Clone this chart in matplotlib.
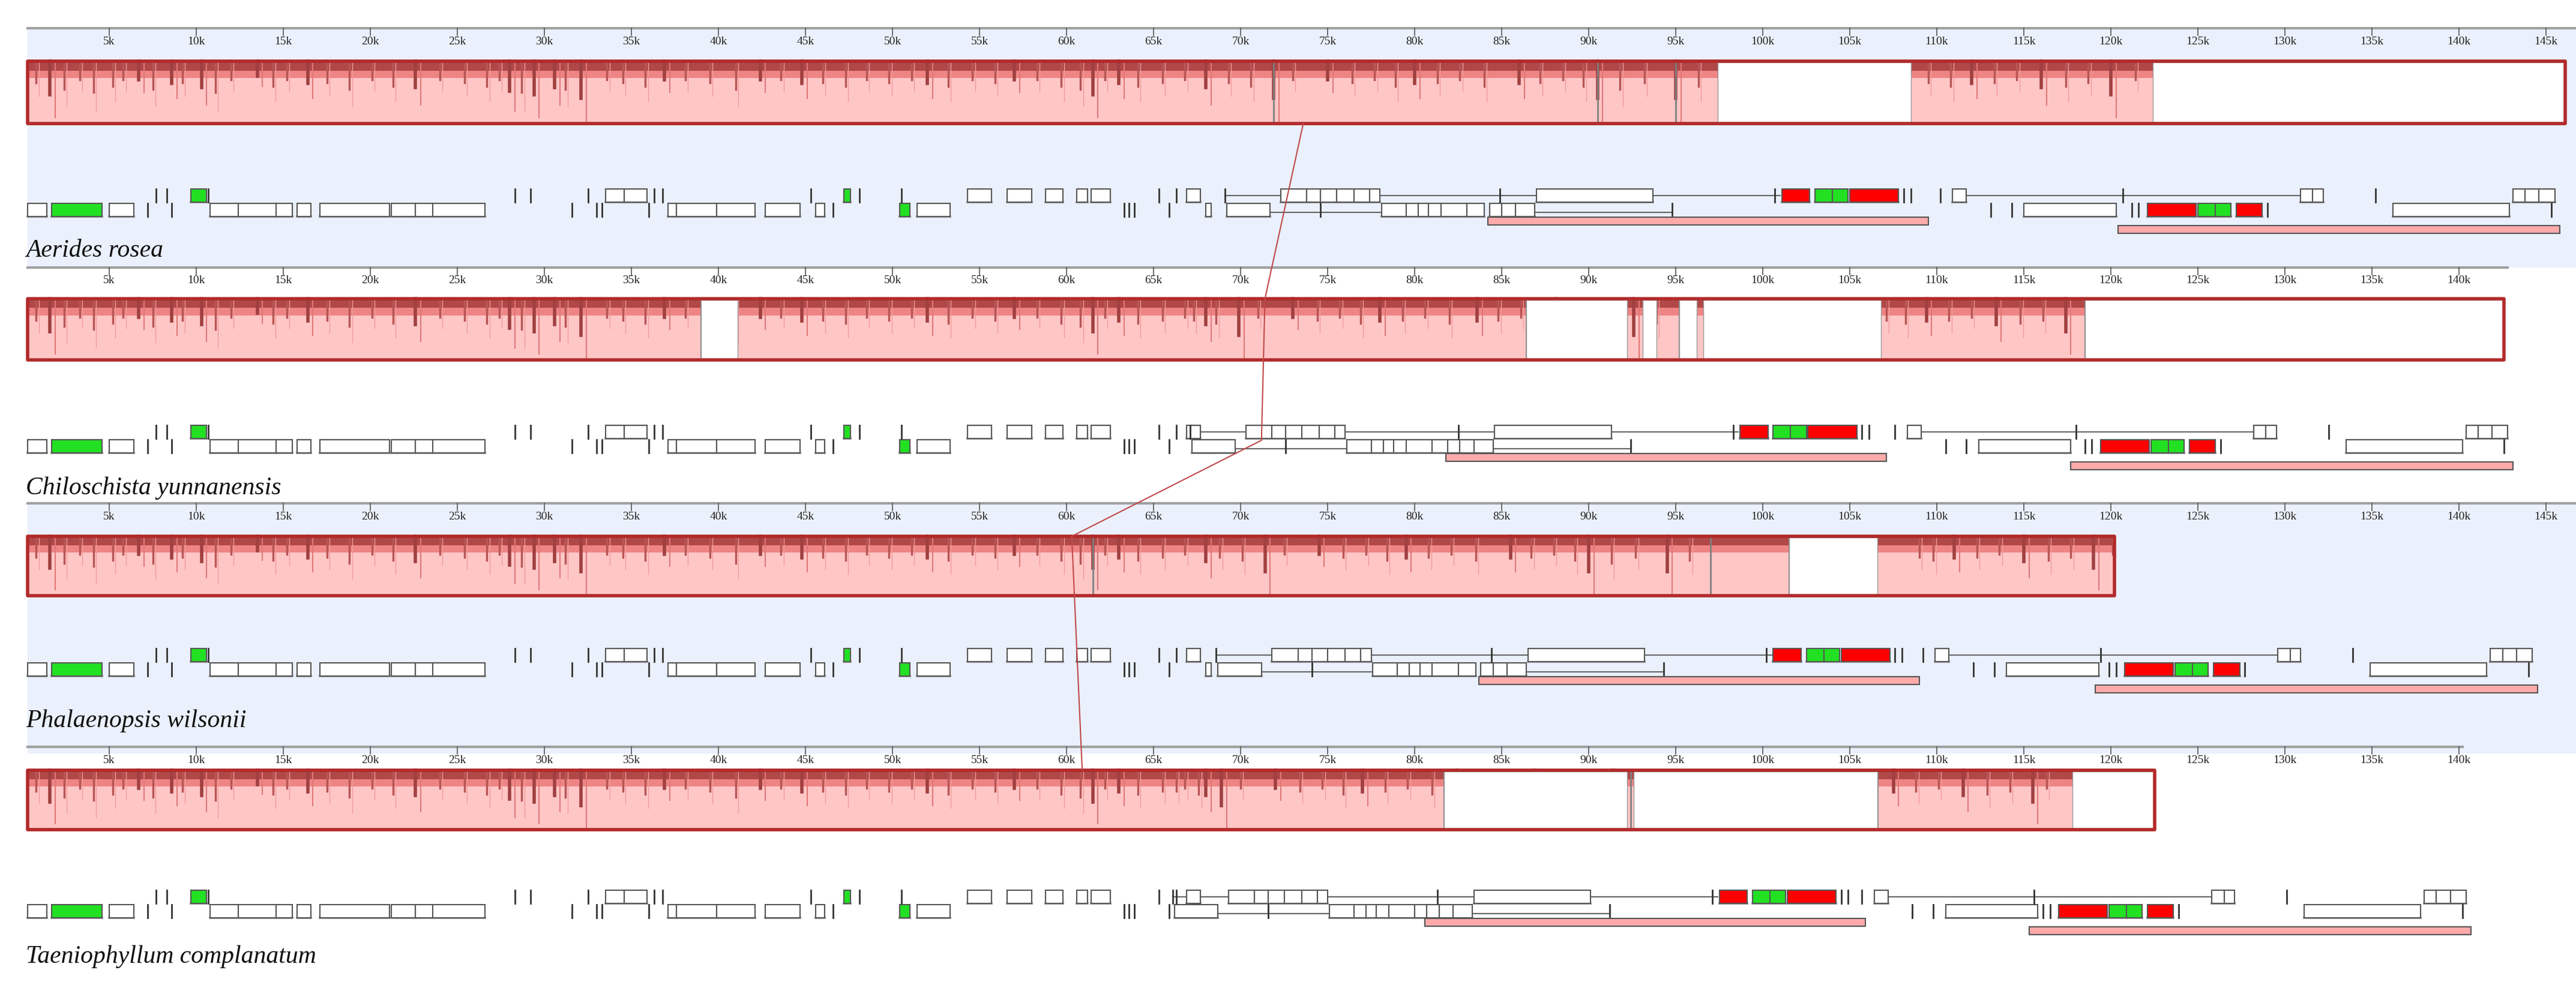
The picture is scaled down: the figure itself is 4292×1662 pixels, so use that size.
import matplotlib.pyplot as plt
from matplotlib.patches import Rectangle

# ---- data (kb, coordinates of Aerides rosea; other genomes shifted per region) ----
names = ["Aerides rosea", "Chiloschista yunnanensis", "Phalaenopsis wilsonii", "Taeniophyllum complanatum"]
genome_len = [148.0, 142.8, 148.0, 140.2]
block_end = [146.1, 142.6, 120.2, 122.5]
gaps = [
    [(97.4, 108.5), (122.4, 146.1)],
    [(39.0, 41.1), (86.4, 92.2), (93.1, 93.9), (95.2, 96.2), (96.6, 106.8), (118.5, 142.6)],
    [(101.5, 106.6)],
    [(81.7, 92.2), (92.6, 106.6), (117.8, 122.5)],
]
dips = [1.6, 6.7, 8.6, 10.3, 13.5, 16.4, 22.6, 28.0, 29.4, 30.6, 32.1, 36.9, 42.4, 44.8,
        52.0, 57.0, 61.5, 63.0, 68.0, 71.9, 75.0, 80.0, 86.0, 90.5, 95.0, 112.0, 116.0, 120.0]
dip_depth = [0.9, 0.5, 0.6, 0.7, 0.4, 0.6, 0.7, 0.8, 0.9, 0.7, 1.0, 0.5, 0.5, 0.6,
             0.6, 0.5, 0.9, 0.6, 0.7, 1.0, 0.5, 0.6, 0.6, 1.0, 1.0, 0.6, 0.7, 0.9]
minor_dips = [0.8, 2.4, 3.3, 4.1, 5.2, 5.8, 7.5, 9.2, 11.1, 12.0, 14.4, 15.2, 17.5, 18.8, 20.1, 21.3,
              24.0, 25.4, 26.7, 27.4, 28.7, 31.2, 33.6, 34.5, 35.8, 38.1, 39.5, 41.0, 43.6, 46.0,
              47.3, 48.5, 49.8, 51.1, 53.2, 54.6, 55.9, 58.3, 59.7, 60.8, 62.2, 64.1, 65.5, 66.8,
              69.3, 70.6, 73.0, 76.4, 77.7, 78.9, 81.3, 82.6, 84.0, 87.2, 88.5, 89.7, 91.8, 93.2,
              96.3, 109.5, 110.8, 113.3, 114.6, 117.4, 118.7, 121.4]
minor_depth = [0.35, 0.45, 0.3, 0.5, 0.4, 0.3, 0.45, 0.35, 0.5, 0.3, 0.4, 0.3, 0.35, 0.45, 0.3, 0.4,
               0.3, 0.35, 0.4, 0.3, 0.5, 0.45, 0.3, 0.35, 0.4, 0.3, 0.35, 0.45, 0.3, 0.35,
               0.4, 0.3, 0.35, 0.3, 0.4, 0.3, 0.35, 0.3, 0.4, 0.45, 0.3, 0.4, 0.35, 0.3,
               0.35, 0.4, 0.3, 0.35, 0.3, 0.4, 0.35, 0.3, 0.4, 0.35, 0.3, 0.4, 0.45, 0.35,
               0.4, 0.35, 0.4, 0.35, 0.3, 0.4, 0.35, 0.3]
deep_lines = [[71.9, 90.5, 95.0, 126.7], [39.0, 86.4, 95.2, 118.5], [61.5, 97.0, 101.5], [81.7, 92.4, 106.6]]

# segment boundaries (kb) and per-genome shifts
seg_bounds = [69.0, 84.2, 110.0, 120.4]
seg_shift = [
    [0, 0, 0, 0, 0],
    [0, -2.0, -2.4, -2.6, -2.7],
    [0, -0.5, -0.5, -1.0, -1.3],
    [0, -3.0, -3.6, -4.5, -5.1],
]

# genes: (start, end, kind) kind g=box, G=green, R=red, b=bar
genes_lower = [
    (0.3, 1.4, "g"), (1.7, 4.6, "G"), (5.0, 6.4, "g"), (7.2, 7.2, "b"), (8.6, 8.6, "b"),
    (10.8, 12.4, "g"), (12.4, 14.6, "g"), (14.6, 15.5, "g"), (15.8, 16.6, "g"), (17.1, 21.1, "g"),
    (21.2, 22.6, "g"), (22.6, 23.6, "g"), (23.6, 26.6, "g"), (31.6, 31.6, "b"), (33.0, 33.0, "b"),
    (33.3, 33.3, "b"), (36.0, 36.0, "b"), (37.1, 37.6, "g"), (37.6, 39.9, "g"), (39.9, 42.1, "g"),
    (42.7, 44.7, "g"), (45.6, 46.1, "g"), (46.6, 46.6, "b"), (50.4, 51.0, "G"), (51.4, 53.3, "g"),
    (63.3, 63.3, "b"), (63.6, 63.6, "b"), (63.9, 63.9, "b"), (65.9, 65.9, "b"), (68.0, 68.3, "g"),
    (69.2, 71.7, "g"), (74.6, 74.6, "b"), (78.1, 79.5, "g"), (79.5, 80.2, "g"), (80.2, 80.8, "g"),
    (80.8, 81.5, "g"), (81.5, 83.0, "g"), (83.0, 84.0, "g"), (84.3, 85.0, "g"), (85.0, 85.8, "g"),
    (85.8, 86.9, "g"), (94.8, 94.8, "b"), (113.1, 113.1, "b"), (114.3, 114.3, "b"), (115.0, 120.3, "g"),
    (121.2, 121.2, "b"), (121.6, 121.6, "b"), (122.1, 124.9, "R"), (125.0, 126.0, "G"), (126.0, 126.9, "G"),
    (127.2, 128.7, "R"), (129.0, 129.0, "b"), (136.2, 142.9, "g"), (145.3, 145.3, "b"),
]
genes_upper = [
    (7.7, 7.7, "b"), (8.3, 8.3, "b"), (9.7, 10.6, "G"), (10.7, 10.7, "b"), (28.3, 28.3, "b"),
    (29.2, 29.2, "b"), (32.5, 32.5, "b"), (33.5, 34.6, "g"), (34.6, 35.9, "g"), (36.3, 36.3, "b"),
    (36.8, 36.8, "b"), (45.3, 45.3, "b"), (47.2, 47.6, "G"), (48.1, 48.1, "b"), (50.5, 50.5, "b"),
    (54.3, 55.7, "g"), (56.6, 58.0, "g"), (58.8, 59.8, "g"), (60.6, 61.2, "g"), (61.4, 62.5, "g"),
    (65.3, 65.3, "b"), (66.3, 66.3, "b"), (66.9, 67.7, "g"), (69.1, 69.1, "b"), (72.3, 73.8, "g"),
    (73.8, 74.6, "g"), (74.6, 75.5, "g"), (75.5, 76.5, "g"), (76.5, 77.4, "g"), (77.4, 78.0, "g"),
    (84.9, 84.9, "b"), (87.0, 93.7, "g"), (100.7, 100.7, "b"), (101.1, 102.7, "R"), (103.0, 104.0, "G"),
    (104.0, 104.9, "G"), (105.0, 107.8, "R"), (108.1, 108.1, "b"), (108.5, 108.5, "b"), (110.2, 110.2, "b"),
    (110.9, 111.7, "g"), (120.7, 120.7, "b"), (130.9, 131.6, "g"), (131.6, 132.2, "g"), (135.2, 135.2, "b"),
    (143.1, 143.8, "g"), (143.8, 144.6, "g"), (144.6, 145.5, "g"),
]
links_upper = [(69.1, 72.3), (78.0, 87.0), (93.7, 101.0), (111.7, 130.9)]
links_lower = [(71.7, 78.1), (86.9, 94.8)]
ir_bars = [(84.2, 109.5, 1), (120.4, 145.8, 2)]

# connector line between aligned positions (kb per genome)
link_kb = [73.6, 71.4, 60.3, 60.9]

# ---- layout (pixel rows) ----
ruler_y = [47, 446, 839, 1245]
block_y = [(102, 206), (498, 600), (894, 993), (1284, 1383)]
gene_y = [350, 744, 1116, 1519]
name_y = [418, 814, 1202, 1595]
blue_bg = [True, False, True, False]

X0, S = 37.0, 29.0
W, H = 4292, 1662
fig = plt.figure(figsize=(W / 100, H / 100), dpi=100)
ax = fig.add_axes([0, 0, 1, 1])
ax.set_xlim(-X0 / S, (W - X0) / S)
ax.set_ylim(H, 0)
ax.axis("off")


def shift(p, x):
    for i, b in enumerate(seg_bounds):
        if x < b:
            return x + seg_shift[p][i]
    return x + seg_shift[p][-1]


bg_ends = [445, 839, 1255, 1662]
for p in range(4):
    if blue_bg[p]:
        ax.add_patch(Rectangle((0.3, ruler_y[p]), 160, bg_ends[p] - ruler_y[p], color="#eaf0fc", zorder=0))
    # ruler
    ry = ruler_y[p]
    ax.plot([0.3, genome_len[p]], [ry, ry], color="#a0a0a0", lw=3, zorder=2)
    k = 5
    while k < genome_len[p]:
        ax.plot([k, k], [ry, ry + 12], color="#555555", lw=1.2, zorder=2)
        ax.text(k, ry + 22, f"{k}k", ha="center", va="center", fontsize=14,
                family="Liberation Serif", color="#222222")
        k += 5
    # LCB block
    t, b = block_y[p]
    h = b - t
    ax.add_patch(Rectangle((0.3, t), block_end[p] - 0.3, h, facecolor="#ffc6c6", edgecolor="none", zorder=3))
    ax.add_patch(Rectangle((0.3, t), block_end[p] - 0.3, h * 0.15, facecolor="#b04848", edgecolor="none", zorder=4))
    ax.add_patch(Rectangle((0.3, t + h * 0.15), block_end[p] - 0.3, h * 0.12, facecolor="#ee8484", edgecolor="none", zorder=4))
    for d, dd in zip(minor_dips, minor_depth):
        x = shift(p, d)
        if x < block_end[p]:
            ax.plot([x, x], [t, t + h * dd], color="#b85555", lw=2.5, zorder=5)
            ax.plot([x + 0.15, x + 0.15], [t, t + h * min(dd * 1.6, 0.95)], color="#f29a9a", lw=1, zorder=5)
    for d, dd in zip(dips, dip_depth):
        x = shift(p, d)
        if x < block_end[p]:
            ax.plot([x, x], [t, t + h * dd * 0.6], color="#a04040", lw=4, zorder=5)
            ax.plot([x + 0.3, x + 0.3], [t, t + h * dd], color="#e07878", lw=1.5, zorder=5)
    for x in deep_lines[p]:
        ax.plot([x, x], [t, b], color="#808080", lw=2, zorder=6)
    for g0, g1 in gaps[p]:
        ax.add_patch(Rectangle((g0, t + 2), g1 - g0, h - 4, facecolor="white", edgecolor="#999999", lw=1, zorder=7))
    ax.add_patch(Rectangle((0.3, t), block_end[p] - 0.3, h, facecolor="none", edgecolor="#b22a2a", lw=4, zorder=8,
                           joinstyle="round"))
    # genes
    gy = gene_y[p]
    for rows, yc in ((genes_lower, gy), (genes_upper, gy - 24)):
        for s0, s1, kind in rows:
            a, c = shift(p, s0), shift(p, s1)
            if kind == "b":
                ax.plot([a, a], [yc - 11, yc + 11], color="#333333", lw=2, zorder=10)
                continue
            fc = {"g": "white", "G": "#22e022", "R": "#ff0000"}[kind]
            ax.add_patch(Rectangle((a, yc - 11), c - a, 22, facecolor=fc, edgecolor="#555555", lw=1.5, zorder=10))
            ax.plot([a, c], [yc + 11, yc + 11], color="#aaaaaa", lw=3, zorder=9)
    for (l0, l1), yc in [(q, gy - 24) for q in links_upper] + [(q, gy + 4) for q in links_lower]:
        ax.plot([shift(p, l0), shift(p, l1)], [yc, yc], color="#666666", lw=1.5, zorder=9)
    for i0, i1, lev in ir_bars:
        a, c = shift(p, i0), shift(p, i1)
        yb = gy + 12 + (lev - 1) * 14
        ax.add_patch(Rectangle((a, yb), c - a, 13, facecolor="#ffaaaa", edgecolor="#555555", lw=1.5, zorder=11))
    ax.text(0.2, name_y[p], names[p], ha="left", va="center", fontsize=30, style="italic",
            family="Liberation Serif", color="#111111")

# connector line
pts_x = [link_kb[0], link_kb[1], link_kb[1] - 0.2, link_kb[2], link_kb[3]]
pts_y = [block_y[0][1], block_y[1][0], gene_y[1] - 10, block_y[2][0], block_y[3][0]]
ax.plot(pts_x, pts_y, color="#c04848", lw=1.5, zorder=12)

fig.savefig("out.png", dpi=100)
